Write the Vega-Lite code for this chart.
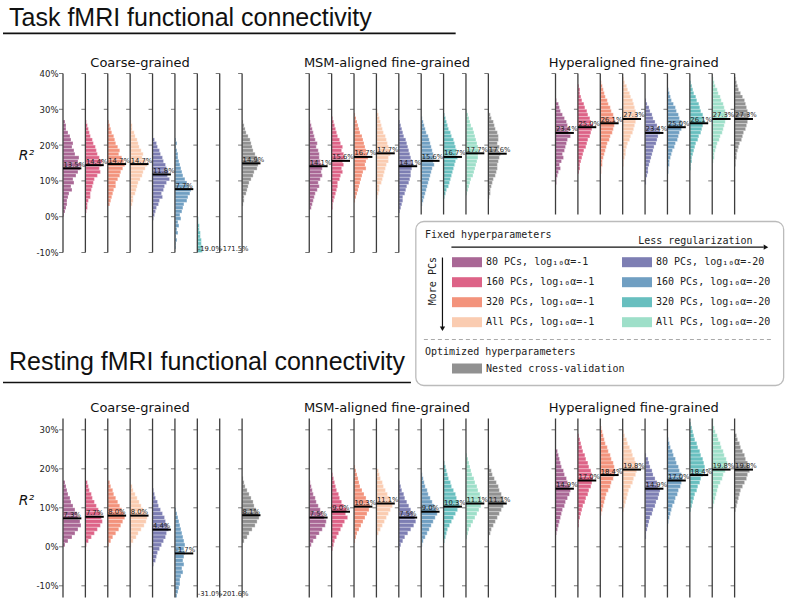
{
"$schema":"https://vega.github.io/schema/vega-lite/v6.json",
"background":"white",
"padding":{"left":2,"top":5.5,"right":2,"bottom":2},
"bounds":"flush",
"spacing":166,
"config":{"view":{"stroke":null},"axis":{"grid":false,"labelOverlap":false}},
"resolve":{"scale":{"x":"independent","y":"independent","color":"independent","fill":"independent"},"legend":{"color":"independent","fill":"independent"}},
"vconcat":[
{
"width":694,"height":179,
"layer":[
{
"data":{"values":"p,g,y,n\n0,0,26,2\n0,0,25,3\n0,0,24,3\n0,0,23,5\n0,0,22,7\n0,0,21,8\n0,0,20,10\n0,0,19,9\n0,0,18,11\n0,0,17,12\n0,0,16,16\n0,0,15,15\n0,0,14,18\n0,0,13,17\n0,0,12,15\n0,0,11,13\n0,0,10,10\n0,0,9,11\n0,0,8,8\n0,0,7,9\n0,0,6,6\n0,0,5,5\n0,0,4,4\n0,0,3,4\n0,0,2,3\n0,0,1,2\n0,0,0,1\n0,1,26,1\n0,1,25,2\n0,1,24,3\n0,1,23,4\n0,1,22,5\n0,1,21,7\n0,1,20,8\n0,1,19,10\n0,1,18,11\n0,1,17,12\n0,1,16,14\n0,1,15,17\n0,1,14,16\n0,1,13,14\n0,1,12,15\n0,1,11,12\n0,1,10,9\n0,1,9,8\n0,1,8,7\n0,1,7,6\n0,1,6,5\n0,1,5,5\n0,1,4,3\n0,1,3,2\n0,1,2,2\n0,1,1,1\n0,2,26,1\n0,2,25,2\n0,2,24,3\n0,2,23,4\n0,2,22,6\n0,2,21,7\n0,2,20,8\n0,2,19,10\n0,2,18,12\n0,2,17,11\n0,2,16,14\n0,2,15,16\n0,2,14,17\n0,2,13,15\n0,2,12,13\n0,2,11,12\n0,2,10,10\n0,2,9,8\n0,2,8,8\n0,2,7,6\n0,2,6,5\n0,2,5,4\n0,2,4,3\n0,2,3,2\n0,3,26,1\n0,3,25,2\n0,3,24,2\n0,3,23,4\n0,3,22,5\n0,3,21,7\n0,3,20,8\n0,3,19,9\n0,3,18,11\n0,3,17,13\n0,3,16,12\n0,3,15,16\n0,3,14,17\n0,3,13,15\n0,3,12,13\n0,3,11,12\n0,3,10,10\n0,3,9,8\n0,3,8,7\n0,3,7,6\n0,3,6,5\n0,3,5,3\n0,3,4,3\n0,3,3,2\n0,3,2,1\n0,4,21,2\n0,4,20,4\n0,4,19,5\n0,4,18,7\n0,4,17,8\n0,4,16,10\n0,4,15,11\n0,4,14,13\n0,4,13,14\n0,4,12,16\n0,4,11,15\n0,4,10,17\n0,4,9,14\n0,4,8,12\n0,4,7,11\n0,4,6,9\n0,4,5,10\n0,4,4,7\n0,4,3,6\n0,4,2,4\n0,4,1,3\n0,4,0,2\n0,4,-1,1\n0,5,21,1\n0,5,20,2\n0,5,19,1\n0,5,18,2\n0,5,17,3\n0,5,16,3\n0,5,15,4\n0,5,14,5\n0,5,13,6\n0,5,12,7\n0,5,11,8\n0,5,10,10\n0,5,9,12\n0,5,8,14\n0,5,7,16\n0,5,6,15\n0,5,5,13\n0,5,4,12\n0,5,3,9\n0,5,2,8\n0,5,1,7\n0,5,0,5\n0,5,-1,6\n0,5,-2,3\n0,5,-3,4\n0,5,-4,2\n0,5,-5,3\n0,5,-6,1\n0,5,-7,2\n0,5,-8,1\n0,5,-9,1\n0,6,-1,1\n0,6,-2,1\n0,6,-3,2\n0,6,-4,2\n0,6,-5,3\n0,6,-6,3\n0,6,-7,4\n0,6,-8,4\n0,6,-9,5\n0,6,-10,5\n0,8,26,1\n0,8,25,2\n0,8,24,3\n0,8,23,4\n0,8,22,6\n0,8,21,8\n0,8,20,9\n0,8,19,10\n0,8,18,11\n0,8,17,13\n0,8,16,15\n0,8,15,17\n0,8,14,16\n0,8,13,15\n0,8,12,12\n0,8,11,11\n0,8,10,9\n0,8,9,7\n0,8,8,6\n0,8,7,5\n0,8,6,4\n0,8,5,2\n0,8,4,2\n0,8,3,1\n1,0,26,1\n1,0,25,2\n1,0,24,3\n1,0,23,4\n1,0,22,5\n1,0,21,6\n1,0,20,8\n1,0,19,7\n1,0,18,9\n1,0,17,10\n1,0,16,10\n1,0,15,11\n1,0,14,12\n1,0,13,13\n1,0,12,12\n1,0,11,13\n1,0,10,11\n1,0,9,9\n1,0,8,10\n1,0,7,8\n1,0,6,6\n1,0,5,5\n1,0,4,4\n1,0,3,3\n1,0,2,2\n1,1,27,1\n1,1,26,2\n1,1,25,3\n1,1,24,4\n1,1,23,5\n1,1,22,6\n1,1,21,8\n1,1,20,9\n1,1,19,11\n1,1,18,10\n1,1,17,12\n1,1,16,13\n1,1,15,11\n1,1,14,12\n1,1,13,10\n1,1,12,11\n1,1,11,9\n1,1,10,8\n1,1,9,6\n1,1,8,6\n1,1,7,5\n1,1,6,4\n1,1,5,3\n1,1,4,2\n1,1,3,1\n1,1,2,1\n1,2,28,1\n1,2,27,2\n1,2,26,3\n1,2,25,4\n1,2,24,5\n1,2,23,6\n1,2,22,8\n1,2,21,9\n1,2,20,10\n1,2,19,11\n1,2,18,12\n1,2,17,13\n1,2,16,14\n1,2,15,12\n1,2,14,11\n1,2,13,12\n1,2,12,9\n1,2,11,8\n1,2,10,7\n1,2,9,6\n1,2,8,5\n1,2,7,4\n1,2,6,3\n1,2,5,2\n1,2,4,1\n1,3,29,1\n1,3,28,2\n1,3,27,3\n1,3,26,4\n1,3,25,5\n1,3,24,6\n1,3,23,7\n1,3,22,9\n1,3,21,10\n1,3,20,11\n1,3,19,12\n1,3,18,13\n1,3,17,14\n1,3,16,12\n1,3,15,12\n1,3,14,10\n1,3,13,9\n1,3,12,8\n1,3,11,7\n1,3,10,6\n1,3,9,5\n1,3,8,3\n1,3,7,3\n1,3,6,2\n1,3,5,1\n1,4,26,1\n1,4,25,2\n1,4,24,3\n1,4,23,4\n1,4,22,5\n1,4,21,7\n1,4,20,8\n1,4,19,9\n1,4,18,10\n1,4,17,11\n1,4,16,12\n1,4,15,13\n1,4,14,14\n1,4,13,13\n1,4,12,12\n1,4,11,12\n1,4,10,11\n1,4,9,10\n1,4,8,8\n1,4,7,7\n1,4,6,6\n1,4,5,4\n1,4,4,4\n1,4,3,3\n1,4,2,2\n1,4,1,1\n1,5,27,1\n1,5,26,2\n1,5,25,3\n1,5,24,4\n1,5,23,5\n1,5,22,7\n1,5,21,8\n1,5,20,9\n1,5,19,10\n1,5,18,11\n1,5,17,12\n1,5,16,13\n1,5,15,12\n1,5,14,13\n1,5,13,11\n1,5,12,10\n1,5,11,9\n1,5,10,8\n1,5,9,7\n1,5,8,6\n1,5,7,5\n1,5,6,4\n1,5,5,3\n1,5,4,2\n1,5,3,1\n1,6,28,1\n1,6,27,2\n1,6,26,3\n1,6,25,4\n1,6,24,5\n1,6,23,7\n1,6,22,8\n1,6,21,10\n1,6,20,11\n1,6,19,12\n1,6,18,13\n1,6,17,13\n1,6,16,14\n1,6,15,12\n1,6,14,11\n1,6,13,10\n1,6,12,9\n1,6,11,8\n1,6,10,7\n1,6,9,6\n1,6,8,5\n1,6,7,3\n1,6,6,2\n1,6,5,1\n1,7,29,1\n1,7,28,2\n1,7,27,3\n1,7,26,4\n1,7,25,5\n1,7,24,7\n1,7,23,8\n1,7,22,9\n1,7,21,10\n1,7,20,11\n1,7,19,12\n1,7,18,13\n1,7,17,12\n1,7,16,12\n1,7,15,11\n1,7,14,10\n1,7,13,9\n1,7,12,8\n1,7,11,7\n1,7,10,5\n1,7,9,4\n1,7,8,3\n1,7,7,2\n1,7,6,1\n1,8,28,2\n1,8,27,3\n1,8,26,5\n1,8,25,6\n1,8,24,7\n1,8,23,9\n1,8,22,10\n1,8,21,10\n1,8,20,9\n1,8,19,11\n1,8,18,10\n1,8,17,12\n1,8,16,11\n1,8,15,10\n1,8,14,9\n1,8,13,9\n1,8,12,8\n1,8,11,7\n1,8,10,5\n1,8,9,4\n1,8,8,3\n1,8,7,2\n1,8,6,2\n1,8,5,1\n2,0,32,1\n2,0,31,3\n2,0,30,4\n2,0,29,5\n2,0,28,7\n2,0,27,9\n2,0,26,11\n2,0,25,12\n2,0,24,14\n2,0,23,13\n2,0,22,15\n2,0,21,12\n2,0,20,11\n2,0,19,10\n2,0,18,9\n2,0,17,7\n2,0,16,8\n2,0,15,6\n2,0,14,4\n2,0,13,5\n2,0,12,3\n2,0,11,2\n2,0,10,1\n2,0,9,1\n2,1,36,1\n2,1,35,2\n2,1,34,2\n2,1,33,3\n2,1,32,4\n2,1,31,6\n2,1,30,7\n2,1,29,9\n2,1,28,10\n2,1,27,12\n2,1,26,13\n2,1,25,15\n2,1,24,14\n2,1,23,13\n2,1,22,12\n2,1,21,10\n2,1,20,9\n2,1,19,8\n2,1,18,6\n2,1,17,5\n2,1,16,4\n2,1,15,3\n2,1,14,2\n2,1,13,2\n2,1,12,1\n2,2,37,1\n2,2,36,2\n2,2,35,3\n2,2,34,4\n2,2,33,5\n2,2,32,7\n2,2,31,8\n2,2,30,10\n2,2,29,11\n2,2,28,13\n2,2,27,14\n2,2,26,15\n2,2,25,14\n2,2,24,13\n2,2,23,12\n2,2,22,10\n2,2,21,9\n2,2,20,7\n2,2,19,6\n2,2,18,5\n2,2,17,4\n2,2,16,3\n2,2,15,2\n2,2,14,2\n2,2,13,1\n2,2,12,1\n2,3,38,1\n2,3,37,2\n2,3,36,4\n2,3,35,5\n2,3,34,7\n2,3,33,8\n2,3,32,10\n2,3,31,11\n2,3,30,12\n2,3,29,13\n2,3,28,14\n2,3,27,15\n2,3,26,13\n2,3,25,12\n2,3,24,11\n2,3,23,10\n2,3,22,8\n2,3,21,7\n2,3,20,5\n2,3,19,4\n2,3,18,3\n2,3,17,3\n2,3,16,2\n2,3,15,1\n2,3,14,1\n2,4,32,1\n2,4,31,2\n2,4,30,4\n2,4,29,5\n2,4,28,7\n2,4,27,8\n2,4,26,10\n2,4,25,12\n2,4,24,14\n2,4,23,15\n2,4,22,13\n2,4,21,12\n2,4,20,11\n2,4,19,9\n2,4,18,8\n2,4,17,7\n2,4,16,6\n2,4,15,5\n2,4,14,4\n2,4,13,3\n2,4,12,3\n2,4,11,2\n2,4,10,1\n2,4,9,1\n2,5,35,1\n2,5,34,2\n2,5,33,3\n2,5,32,4\n2,5,31,6\n2,5,30,8\n2,5,29,9\n2,5,28,11\n2,5,27,12\n2,5,26,14\n2,5,25,15\n2,5,24,14\n2,5,23,12\n2,5,22,11\n2,5,21,10\n2,5,20,8\n2,5,19,7\n2,5,18,5\n2,5,17,4\n2,5,16,3\n2,5,15,2\n2,5,14,2\n2,5,13,1\n2,5,12,1\n2,6,37,1\n2,6,36,2\n2,6,35,3\n2,6,34,4\n2,6,33,6\n2,6,32,7\n2,6,31,9\n2,6,30,10\n2,6,29,11\n2,6,28,13\n2,6,27,14\n2,6,26,15\n2,6,25,13\n2,6,24,12\n2,6,23,11\n2,6,22,9\n2,6,21,8\n2,6,20,6\n2,6,19,5\n2,6,18,4\n2,6,17,3\n2,6,16,2\n2,6,15,2\n2,6,14,1\n2,6,13,1\n2,7,38,1\n2,7,37,2\n2,7,36,3\n2,7,35,5\n2,7,34,6\n2,7,33,8\n2,7,32,9\n2,7,31,11\n2,7,30,12\n2,7,29,13\n2,7,28,14\n2,7,27,15\n2,7,26,13\n2,7,25,12\n2,7,24,11\n2,7,23,10\n2,7,22,8\n2,7,21,7\n2,7,20,5\n2,7,19,4\n2,7,18,3\n2,7,17,2\n2,7,16,2\n2,7,15,1\n2,8,38,1\n2,8,37,2\n2,8,36,3\n2,8,35,4\n2,8,34,6\n2,8,33,8\n2,8,32,10\n2,8,31,11\n2,8,30,12\n2,8,29,13\n2,8,28,14\n2,8,27,14\n2,8,26,13\n2,8,25,12\n2,8,24,11\n2,8,23,9\n2,8,22,8\n2,8,21,7\n2,8,20,5\n2,8,19,4\n2,8,18,3\n2,8,17,2\n2,8,16,2\n2,8,15,1\n2,8,14,1","format":{"type":"csv","parse":{"p":"number","g":"number","y":"number","n":"number"}}},
"transform":[{"calculate":"datum.p*11+datum.g","as":"x"},{"calculate":"datum.x+datum.n/22.4","as":"xe"},{"calculate":"datum.y+1","as":"ye"}],
"layer":[
{"transform":[{"filter":"datum.g<8"}],
"mark":{"type":"rect","fillOpacity":0.9,"stroke":"white","strokeWidth":0.5,"strokeOpacity":0.6},
"encoding":{
"x":{"field":"x","type":"quantitative","scale":{"domain":[0,31],"nice":false,"zero":false},"axis":{"orient":"top","values":[3.42,14.45,25.47],"tickCount":10,"labelExpr":"datum.value<8?'Coarse-grained':datum.value<20?'MSM-aligned fine-grained':'Hyperaligned fine-grained'","domain":false,"ticks":false,"tickSize":0,"labelPadding":4,"labelFont":"DejaVu Sans","labelFontSize":13,"labelColor":"#111","labelAngle":0,"labelFlush":false,"labelOverlap":false,"labelBound":false,"title":null}},
"x2":{"field":"xe"},
"y":{"field":"y","type":"quantitative","scale":{"domain":[-10,40],"nice":false,"zero":false},"axis":{"values":[-10,0,10,20,30,40],"tickCount":10,"labelExpr":"datum.value+'%'","domain":false,"ticks":false,"tickSize":0,"labelPadding":5,"labelFont":"DejaVu Sans","labelFontSize":8.5,"labelColor":"#222","labelFlush":false,"labelOverlap":false,"title":"R²","titleAngle":0,"titleFont":"DejaVu Sans","titleFontSize":14,"titleFontStyle":"italic","titleFontWeight":"normal","titleColor":"#111","titleAlign":"center","titleBaseline":"middle","titleX":-37,"titleY":82}},
"y2":{"field":"ye"},
"color":{"field":"g","type":"nominal","scale":{"domain":[0,1,2,3,4,5,6,7],"range":["#a0568a","#d9527a","#f2876e","#f9c6a8","#6f70ab","#6095bb","#58b8b8","#94dcc3"]},
"legend":{"title":"Fixed hyperparameters","orient":"none","legendX":362,"legendY":156,"columns":2,"columnPadding":-6,"rowPadding":5,"symbolType":"M1.7,-0.5H4.7V0.5H1.7Z","symbolSize":400,"symbolStrokeWidth":0,"symbolOpacity":0.9,"labelOffset":41,"labelFont":"DejaVu Sans Mono","labelFontSize":10,"labelColor":"#222","labelLimit":300,"labelExpr":"['\u00a080 PCs, log₁₀α=-1','160 PCs, log₁₀α=-1','320 PCs, log₁₀α=-1','All PCs, log₁₀α=-1','\u00a080 PCs, log₁₀α=-20','160 PCs, log₁₀α=-20','320 PCs, log₁₀α=-20','All PCs, log₁₀α=-20'][datum.value]","titleFont":"DejaVu Sans Mono","titleFontSize":10,"titleFontWeight":"normal","titleColor":"#222","titlePadding":12.7,"padding":0}}
}},
{"transform":[{"filter":"datum.g==8"}],
"mark":{"type":"rect","fillOpacity":0.9,"stroke":"white","strokeWidth":0.5,"strokeOpacity":0.6},
"encoding":{
"x":{"field":"x","type":"quantitative"},"x2":{"field":"xe"},
"y":{"field":"y","type":"quantitative"},"y2":{"field":"ye"},
"fill":{"field":"g","type":"nominal","scale":{"domain":[8],"range":["#858585"]},
"legend":{"title":"Optimized hyperparameters","orient":"none","legendX":362,"legendY":273,"symbolType":"M1.7,-0.5H4.7V0.5H1.7Z","symbolSize":400,"symbolStrokeWidth":0,"symbolOpacity":0.9,"labelOffset":41,"labelFont":"DejaVu Sans Mono","labelFontSize":10,"labelColor":"#222","labelLimit":300,"labelExpr":"'Nested cross-validation'","titleFont":"DejaVu Sans Mono","titleFontSize":10,"titleFontWeight":"normal","titleColor":"#222","titlePadding":2,"padding":0}}
}}
]
},
{
"data":{"values":"p,g,m,t\n0,0,13.5,13.5%\n0,1,14.4,14.4%\n0,2,14.7,14.7%\n0,3,14.7,14.7%\n0,4,11.8,11.8%\n0,5,7.7,7.7%\n0,6,-19.0,-19.0%\n0,7,-171.5,-171.5%\n0,8,14.9,14.9%\n1,0,14.1,14.1%\n1,1,15.6,15.6%\n1,2,16.7,16.7%\n1,3,17.7,17.7%\n1,4,14.1,14.1%\n1,5,15.6,15.6%\n1,6,16.7,16.7%\n1,7,17.7,17.7%\n1,8,17.6,17.6%\n2,0,23.4,23.4%\n2,1,25.0,25.0%\n2,2,26.1,26.1%\n2,3,27.3,27.3%\n2,4,23.4,23.4%\n2,5,25.0,25.0%\n2,6,26.1,26.1%\n2,7,27.3,27.3%\n2,8,27.3,27.3%","format":{"type":"csv","parse":{"p":"number","g":"number","m":"number"}}},
"transform":[{"calculate":"datum.p*11+datum.g","as":"x"},{"calculate":"datum.x+0.82","as":"xe"},{"calculate":"max(datum.m,-10)","as":"ly"}],
"layer":[
{"mark":{"type":"rule","color":"#3d3d3d","strokeWidth":1.3},"encoding":{"x":{"field":"x","type":"quantitative"},"y":{"datum":40},"y2":{"datum":-10}}},
{"mark":{"type":"tick","orient":"horizontal","size":4,"thickness":1,"xOffset":-2,"color":"#3d3d3d"},"encoding":{"x":{"field":"x","type":"quantitative"},"y":{"datum":40}}},
{"mark":{"type":"tick","orient":"horizontal","size":4,"thickness":1,"xOffset":-2,"color":"#3d3d3d"},"encoding":{"x":{"field":"x","type":"quantitative"},"y":{"datum":30}}},
{"mark":{"type":"tick","orient":"horizontal","size":4,"thickness":1,"xOffset":-2,"color":"#3d3d3d"},"encoding":{"x":{"field":"x","type":"quantitative"},"y":{"datum":20}}},
{"mark":{"type":"tick","orient":"horizontal","size":4,"thickness":1,"xOffset":-2,"color":"#3d3d3d"},"encoding":{"x":{"field":"x","type":"quantitative"},"y":{"datum":10}}},
{"mark":{"type":"tick","orient":"horizontal","size":4,"thickness":1,"xOffset":-2,"color":"#3d3d3d"},"encoding":{"x":{"field":"x","type":"quantitative"},"y":{"datum":0}}},
{"mark":{"type":"tick","orient":"horizontal","size":4,"thickness":1,"xOffset":-2,"color":"#3d3d3d"},"encoding":{"x":{"field":"x","type":"quantitative"},"y":{"datum":-10}}},
{"transform":[{"filter":"datum.m>=-10"}],"mark":{"type":"rule","color":"black","strokeWidth":2},"encoding":{"x":{"field":"x","type":"quantitative"},"x2":{"field":"xe"},"y":{"field":"m","type":"quantitative"}}},
{"mark":{"type":"text","align":"left","baseline":"alphabetic","dx":0.5,"dy":-1.5,"fontSize":6.8,"font":"DejaVu Sans","color":"#222"},"encoding":{"x":{"field":"x","type":"quantitative"},"y":{"field":"ly","type":"quantitative"},"text":{"field":"t"}}}
]
},
{
"data":{"values":[{}]},
"layer":[
{"mark":{"type":"rect","fill":"white"},"encoding":{"x":{"datum":15.63},"x2":{"datum":32.32},"y":{"datum":0.6},"y2":{"datum":-47.4}}},
{"mark":{"type":"rect","fill":"white","stroke":"#bbbbbb","strokeWidth":1.3,"cornerRadius":8},"encoding":{"x":{"datum":15.76},"x2":{"datum":32.19},"y":{"datum":-1.34},"y2":{"datum":-47.15}}},
{"mark":{"type":"text","text":"Less regularization","align":"right","baseline":"middle","font":"DejaVu Sans Mono","fontSize":10,"color":"#222"},"encoding":{"x":{"datum":30.8},"y":{"datum":-6.65}}},
{"mark":{"type":"rule","color":"#111","strokeWidth":1.2},"encoding":{"x":{"datum":17.35},"x2":{"datum":31.3},"y":{"datum":-8.5}}},
{"mark":{"type":"point","shape":"triangle-right","filled":true,"size":28,"color":"#111","opacity":1},"encoding":{"x":{"datum":31.4},"y":{"datum":-8.5}}},
{"mark":{"type":"text","text":"More PCs","angle":270,"align":"center","baseline":"middle","font":"DejaVu Sans Mono","fontSize":10,"color":"#222"},"encoding":{"x":{"datum":16.52},"y":{"datum":-18.0}}},
{"mark":{"type":"rule","color":"#111","strokeWidth":1.2},"encoding":{"x":{"datum":16.95},"y":{"datum":-11.4},"y2":{"datum":-31.0}}},
{"mark":{"type":"point","shape":"triangle-down","filled":true,"size":28,"color":"#111","opacity":1},"encoding":{"x":{"datum":16.95},"y":{"datum":-31.3}}},
{"mark":{"type":"rule","color":"#aaaaaa","strokeWidth":1.2,"strokeDash":[4,3]},"encoding":{"x":{"datum":16.12},"x2":{"datum":31.74},"y":{"datum":-34.3}}},
{"mark":{"type":"text","text":"Task fMRI functional connectivity","align":"left","baseline":"alphabetic","font":"Liberation Sans","fontSize":25,"color":"#111"},"encoding":{"x":{"datum":-2.41},"y":{"datum":53.4}}},
{"mark":{"type":"rule","color":"#111","strokeWidth":1.6},"encoding":{"x":{"datum":-2.68},"x2":{"datum":17.54},"y":{"datum":51.2}}}
]
}
]
},
{
"width":694,"height":179,
"layer":[
{
"data":{"values":"p,g,y,n\n0,0,16,2\n0,0,15,3\n0,0,14,4\n0,0,13,5\n0,0,12,7\n0,0,11,8\n0,0,10,10\n0,0,9,12\n0,0,8,14\n0,0,7,15\n0,0,6,17\n0,0,5,18\n0,0,4,15\n0,0,3,12\n0,0,2,9\n0,0,1,5\n0,0,0,2\n0,1,16,2\n0,1,15,3\n0,1,14,4\n0,1,13,6\n0,1,12,7\n0,1,11,9\n0,1,10,11\n0,1,9,13\n0,1,8,15\n0,1,7,16\n0,1,6,17\n0,1,5,15\n0,1,4,12\n0,1,3,9\n0,1,2,6\n0,1,1,3\n0,1,0,1\n0,2,16,2\n0,2,15,3\n0,2,14,5\n0,2,13,6\n0,2,12,8\n0,2,11,10\n0,2,10,12\n0,2,9,14\n0,2,8,16\n0,2,7,17\n0,2,6,15\n0,2,5,13\n0,2,4,11\n0,2,3,8\n0,2,2,5\n0,2,1,3\n0,2,0,1\n0,3,15,2\n0,3,14,3\n0,3,13,5\n0,3,12,7\n0,3,11,9\n0,3,10,11\n0,3,9,13\n0,3,8,15\n0,3,7,17\n0,3,6,16\n0,3,5,14\n0,3,4,11\n0,3,3,8\n0,3,2,6\n0,3,1,3\n0,3,0,1\n0,4,14,1\n0,4,13,2\n0,4,12,3\n0,4,11,5\n0,4,10,6\n0,4,9,8\n0,4,8,10\n0,4,7,12\n0,4,6,13\n0,4,5,15\n0,4,4,16\n0,4,3,14\n0,4,2,13\n0,4,1,11\n0,4,0,9\n0,4,-1,7\n0,4,-2,5\n0,4,-3,4\n0,4,-4,3\n0,4,-5,1\n0,5,9,1\n0,5,8,2\n0,5,7,3\n0,5,6,4\n0,5,5,5\n0,5,4,6\n0,5,3,7\n0,5,2,8\n0,5,1,9\n0,5,0,10\n0,5,-1,9\n0,5,-2,10\n0,5,-3,9\n0,5,-4,8\n0,5,-5,9\n0,5,-6,7\n0,5,-7,8\n0,5,-8,6\n0,5,-9,5\n0,5,-10,5\n0,5,-11,4\n0,5,-12,3\n0,5,-13,2\n0,8,17,1\n0,8,16,2\n0,8,15,3\n0,8,14,5\n0,8,13,7\n0,8,12,9\n0,8,11,11\n0,8,10,12\n0,8,9,14\n0,8,8,16\n0,8,7,17\n0,8,6,15\n0,8,5,13\n0,8,4,10\n0,8,3,7\n0,8,2,5\n0,8,1,2\n1,0,16,1\n1,0,15,2\n1,0,14,3\n1,0,13,4\n1,0,12,6\n1,0,11,7\n1,0,10,9\n1,0,9,11\n1,0,8,13\n1,0,7,15\n1,0,6,17\n1,0,5,16\n1,0,4,13\n1,0,3,10\n1,0,2,7\n1,0,1,4\n1,0,0,2\n1,1,18,1\n1,1,17,2\n1,1,16,3\n1,1,15,4\n1,1,14,5\n1,1,13,7\n1,1,12,8\n1,1,11,10\n1,1,10,12\n1,1,9,15\n1,1,8,14\n1,1,7,16\n1,1,6,13\n1,1,5,11\n1,1,4,9\n1,1,3,7\n1,1,2,5\n1,1,1,3\n1,1,0,2\n1,1,-1,1\n1,2,20,1\n1,2,19,2\n1,2,18,3\n1,2,17,4\n1,2,16,5\n1,2,15,6\n1,2,14,8\n1,2,13,10\n1,2,12,12\n1,2,11,14\n1,2,10,16\n1,2,9,15\n1,2,8,13\n1,2,7,11\n1,2,6,9\n1,2,5,7\n1,2,4,5\n1,2,3,3\n1,2,2,2\n1,2,1,1\n1,3,19,2\n1,3,18,3\n1,3,17,4\n1,3,16,6\n1,3,15,7\n1,3,14,9\n1,3,13,11\n1,3,12,13\n1,3,11,15\n1,3,10,16\n1,3,9,14\n1,3,8,12\n1,3,7,10\n1,3,6,8\n1,3,5,6\n1,3,4,4\n1,3,3,2\n1,4,16,1\n1,4,15,2\n1,4,14,3\n1,4,13,5\n1,4,12,6\n1,4,11,8\n1,4,10,10\n1,4,9,12\n1,4,8,14\n1,4,7,16\n1,4,6,17\n1,4,5,15\n1,4,4,12\n1,4,3,9\n1,4,2,6\n1,4,1,4\n1,4,0,2\n1,4,-1,1\n1,5,18,1\n1,5,17,2\n1,5,16,3\n1,5,15,4\n1,5,14,6\n1,5,13,7\n1,5,12,9\n1,5,11,11\n1,5,10,13\n1,5,9,15\n1,5,8,16\n1,5,7,14\n1,5,6,12\n1,5,5,10\n1,5,4,8\n1,5,3,6\n1,5,2,4\n1,5,1,2\n1,5,0,1\n1,6,21,1\n1,6,20,2\n1,6,19,3\n1,6,18,4\n1,6,17,5\n1,6,16,7\n1,6,15,8\n1,6,14,10\n1,6,13,12\n1,6,12,13\n1,6,11,15\n1,6,10,16\n1,6,9,14\n1,6,8,12\n1,6,7,10\n1,6,6,8\n1,6,5,6\n1,6,4,4\n1,6,3,3\n1,6,2,2\n1,6,1,1\n1,7,23,1\n1,7,22,2\n1,7,21,3\n1,7,20,4\n1,7,19,5\n1,7,18,6\n1,7,17,8\n1,7,16,9\n1,7,15,11\n1,7,14,12\n1,7,13,14\n1,7,12,15\n1,7,11,16\n1,7,10,15\n1,7,9,13\n1,7,8,11\n1,7,7,9\n1,7,6,7\n1,7,5,5\n1,7,4,3\n1,7,3,2\n1,7,2,1\n1,8,20,1\n1,8,19,3\n1,8,18,4\n1,8,17,6\n1,8,16,8\n1,8,15,10\n1,8,14,11\n1,8,13,13\n1,8,12,15\n1,8,11,16\n1,8,10,15\n1,8,9,13\n1,8,8,11\n1,8,7,9\n1,8,6,7\n1,8,5,5\n1,8,4,3\n1,8,3,2\n2,0,24,2\n2,0,23,3\n2,0,22,4\n2,0,21,5\n2,0,20,6\n2,0,19,8\n2,0,18,9\n2,0,17,11\n2,0,16,12\n2,0,15,14\n2,0,14,15\n2,0,13,14\n2,0,12,12\n2,0,11,10\n2,0,10,9\n2,0,9,7\n2,0,8,6\n2,0,7,5\n2,0,6,4\n2,0,5,3\n2,0,4,2\n2,0,3,1\n2,1,28,1\n2,1,27,2\n2,1,26,3\n2,1,25,4\n2,1,24,5\n2,1,23,7\n2,1,22,8\n2,1,21,10\n2,1,20,11\n2,1,19,13\n2,1,18,14\n2,1,17,15\n2,1,16,14\n2,1,15,13\n2,1,14,11\n2,1,13,10\n2,1,12,8\n2,1,11,7\n2,1,10,5\n2,1,9,4\n2,1,8,3\n2,1,7,2\n2,1,6,1\n2,1,5,1\n2,2,30,1\n2,2,29,2\n2,2,28,3\n2,2,27,4\n2,2,26,5\n2,2,25,7\n2,2,24,8\n2,2,23,10\n2,2,22,11\n2,2,21,13\n2,2,20,14\n2,2,19,15\n2,2,18,14\n2,2,17,13\n2,2,16,11\n2,2,15,10\n2,2,14,8\n2,2,13,6\n2,2,12,5\n2,2,11,4\n2,2,10,3\n2,2,9,2\n2,2,8,1\n2,3,29,1\n2,3,28,2\n2,3,27,4\n2,3,26,5\n2,3,25,7\n2,3,24,9\n2,3,23,10\n2,3,22,12\n2,3,21,13\n2,3,20,15\n2,3,19,14\n2,3,18,13\n2,3,17,11\n2,3,16,10\n2,3,15,8\n2,3,14,6\n2,3,13,5\n2,3,12,4\n2,3,11,3\n2,3,10,2\n2,3,9,1\n2,4,23,1\n2,4,22,3\n2,4,21,4\n2,4,20,5\n2,4,19,7\n2,4,18,8\n2,4,17,10\n2,4,16,12\n2,4,15,13\n2,4,14,15\n2,4,13,14\n2,4,12,13\n2,4,11,11\n2,4,10,10\n2,4,9,8\n2,4,8,7\n2,4,7,5\n2,4,6,4\n2,4,5,3\n2,4,4,2\n2,4,3,1\n2,4,2,1\n2,5,27,1\n2,5,26,2\n2,5,25,3\n2,5,24,5\n2,5,23,6\n2,5,22,8\n2,5,21,9\n2,5,20,11\n2,5,19,12\n2,5,18,14\n2,5,17,15\n2,5,16,14\n2,5,15,13\n2,5,14,11\n2,5,13,10\n2,5,12,8\n2,5,11,7\n2,5,10,5\n2,5,9,4\n2,5,8,3\n2,5,7,2\n2,5,6,1\n2,6,31,1\n2,6,30,2\n2,6,29,3\n2,6,28,4\n2,6,27,5\n2,6,26,7\n2,6,25,8\n2,6,24,10\n2,6,23,11\n2,6,22,13\n2,6,21,14\n2,6,20,15\n2,6,19,14\n2,6,18,13\n2,6,17,11\n2,6,16,10\n2,6,15,8\n2,6,14,7\n2,6,13,5\n2,6,12,4\n2,6,11,3\n2,6,10,2\n2,6,9,1\n2,7,32,1\n2,7,31,1\n2,7,30,2\n2,7,29,3\n2,7,28,5\n2,7,27,6\n2,7,26,8\n2,7,25,9\n2,7,24,11\n2,7,23,12\n2,7,22,14\n2,7,21,15\n2,7,20,14\n2,7,19,13\n2,7,18,11\n2,7,17,10\n2,7,16,8\n2,7,15,6\n2,7,14,5\n2,7,13,4\n2,7,12,3\n2,7,11,2\n2,7,10,1\n2,8,28,2\n2,8,27,3\n2,8,26,5\n2,8,25,6\n2,8,24,8\n2,8,23,10\n2,8,22,11\n2,8,21,13\n2,8,20,14\n2,8,19,15\n2,8,18,13\n2,8,17,12\n2,8,16,10\n2,8,15,8\n2,8,14,6\n2,8,13,5\n2,8,12,4\n2,8,11,3\n2,8,10,2\n2,8,9,1","format":{"type":"csv","parse":{"p":"number","g":"number","y":"number","n":"number"}}},
"transform":[{"calculate":"datum.p*11+datum.g","as":"x"},{"calculate":"datum.x+datum.n/22.4","as":"xe"},{"calculate":"datum.y+1","as":"ye"}],
"layer":[
{"transform":[{"filter":"datum.g<8"}],
"mark":{"type":"rect","fillOpacity":0.9,"stroke":"white","strokeWidth":0.5,"strokeOpacity":0.6},
"encoding":{
"x":{"field":"x","type":"quantitative","scale":{"domain":[0,31],"nice":false,"zero":false},"axis":{"orient":"top","values":[3.42,14.45,25.47],"tickCount":10,"labelExpr":"datum.value<8?'Coarse-grained':datum.value<20?'MSM-aligned fine-grained':'Hyperaligned fine-grained'","domain":false,"ticks":false,"tickSize":0,"labelPadding":4,"labelFont":"DejaVu Sans","labelFontSize":13,"labelColor":"#111","labelAngle":0,"labelFlush":false,"labelOverlap":false,"labelBound":false,"title":null}},
"x2":{"field":"xe"},
"y":{"field":"y","type":"quantitative","scale":{"domain":[-13,32.9],"nice":false,"zero":false},"axis":{"values":[-10,0,10,20,30],"tickCount":10,"labelExpr":"datum.value+'%'","domain":false,"ticks":false,"tickSize":0,"labelPadding":5,"labelFont":"DejaVu Sans","labelFontSize":8.5,"labelColor":"#222","labelFlush":false,"labelOverlap":false,"title":"R²","titleAngle":0,"titleFont":"DejaVu Sans","titleFontSize":14,"titleFontStyle":"italic","titleFontWeight":"normal","titleColor":"#111","titleAlign":"center","titleBaseline":"middle","titleX":-37,"titleY":82}},
"y2":{"field":"ye"},
"color":{"field":"g","type":"nominal","scale":{"domain":[0,1,2,3,4,5,6,7],"range":["#a0568a","#d9527a","#f2876e","#f9c6a8","#6f70ab","#6095bb","#58b8b8","#94dcc3"]},"legend":null}
}},
{"transform":[{"filter":"datum.g==8"}],
"mark":{"type":"rect","fillOpacity":0.9,"stroke":"white","strokeWidth":0.5,"strokeOpacity":0.6},
"encoding":{
"x":{"field":"x","type":"quantitative"},"x2":{"field":"xe"},
"y":{"field":"y","type":"quantitative"},"y2":{"field":"ye"},
"fill":{"field":"g","type":"nominal","scale":{"domain":[8],"range":["#858585"]},"legend":null}
}}
]
},
{
"data":{"values":"p,g,m,t\n0,0,7.3,7.3%\n0,1,7.7,7.7%\n0,2,8.0,8.0%\n0,3,8.0,8.0%\n0,4,4.4,4.4%\n0,5,-1.7,-1.7%\n0,6,-31.0,-31.0%\n0,7,-201.6,-201.6%\n0,8,8.1,8.1%\n1,0,7.5,7.5%\n1,1,9.0,9.0%\n1,2,10.3,10.3%\n1,3,11.1,11.1%\n1,4,7.5,7.5%\n1,5,9.0,9.0%\n1,6,10.3,10.3%\n1,7,11.1,11.1%\n1,8,11.1,11.1%\n2,0,14.9,14.9%\n2,1,17.0,17.0%\n2,2,18.4,18.4%\n2,3,19.8,19.8%\n2,4,14.9,14.9%\n2,5,17.0,17.0%\n2,6,18.4,18.4%\n2,7,19.8,19.8%\n2,8,19.8,19.8%","format":{"type":"csv","parse":{"p":"number","g":"number","m":"number"}}},
"transform":[{"calculate":"datum.p*11+datum.g","as":"x"},{"calculate":"datum.x+0.82","as":"xe"},{"calculate":"max(datum.m,-13)","as":"ly"}],
"layer":[
{"mark":{"type":"rule","color":"#3d3d3d","strokeWidth":1.3},"encoding":{"x":{"field":"x","type":"quantitative"},"y":{"datum":32.9},"y2":{"datum":-13}}},
{"mark":{"type":"tick","orient":"horizontal","size":4,"thickness":1,"xOffset":-2,"color":"#3d3d3d"},"encoding":{"x":{"field":"x","type":"quantitative"},"y":{"datum":30}}},
{"mark":{"type":"tick","orient":"horizontal","size":4,"thickness":1,"xOffset":-2,"color":"#3d3d3d"},"encoding":{"x":{"field":"x","type":"quantitative"},"y":{"datum":20}}},
{"mark":{"type":"tick","orient":"horizontal","size":4,"thickness":1,"xOffset":-2,"color":"#3d3d3d"},"encoding":{"x":{"field":"x","type":"quantitative"},"y":{"datum":10}}},
{"mark":{"type":"tick","orient":"horizontal","size":4,"thickness":1,"xOffset":-2,"color":"#3d3d3d"},"encoding":{"x":{"field":"x","type":"quantitative"},"y":{"datum":0}}},
{"mark":{"type":"tick","orient":"horizontal","size":4,"thickness":1,"xOffset":-2,"color":"#3d3d3d"},"encoding":{"x":{"field":"x","type":"quantitative"},"y":{"datum":-10}}},
{"transform":[{"filter":"datum.m>=-13"}],"mark":{"type":"rule","color":"black","strokeWidth":2},"encoding":{"x":{"field":"x","type":"quantitative"},"x2":{"field":"xe"},"y":{"field":"m","type":"quantitative"}}},
{"mark":{"type":"text","align":"left","baseline":"alphabetic","dx":0.5,"dy":-1.5,"fontSize":6.8,"font":"DejaVu Sans","color":"#222"},"encoding":{"x":{"field":"x","type":"quantitative"},"y":{"field":"ly","type":"quantitative"},"text":{"field":"t"}}}
]
},
{
"data":{"values":[{}]},
"layer":[
{"mark":{"type":"text","text":"Resting fMRI functional connectivity","align":"left","baseline":"alphabetic","font":"Liberation Sans","fontSize":25,"color":"#111"},"encoding":{"x":{"datum":-2.41},"y":{"datum":45.46}}},
{"mark":{"type":"rule","color":"#111","strokeWidth":1.6},"encoding":{"x":{"datum":-2.68},"x2":{"datum":15.54},"y":{"datum":42.13}}}
]
}
]
}
]
}
